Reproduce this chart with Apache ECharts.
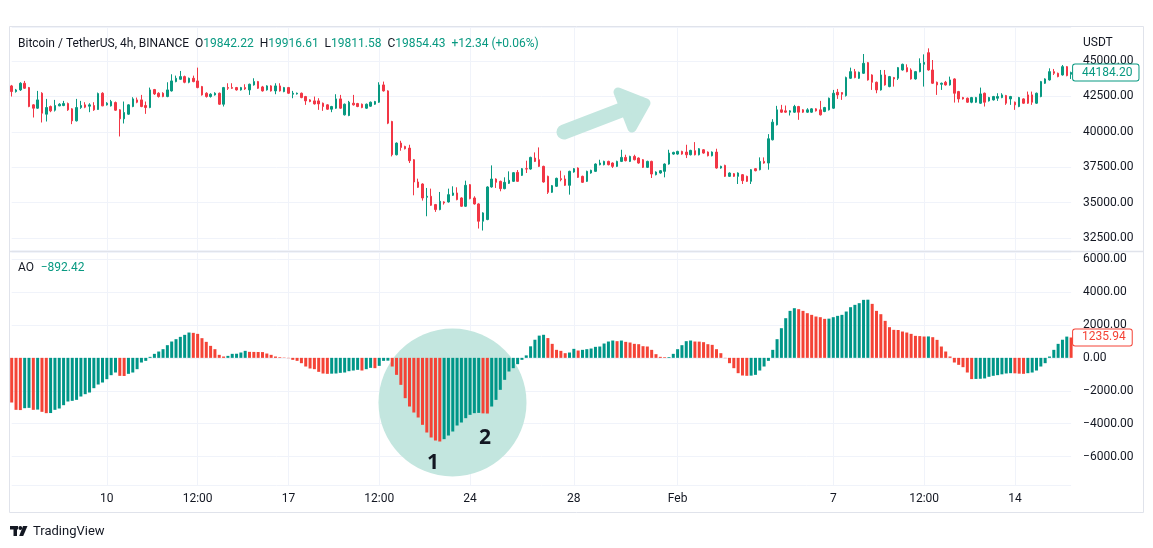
<!DOCTYPE html>
<html><head><meta charset="utf-8">
<script src="https://cdn.jsdelivr.net/npm/echarts@6/dist/echarts.min.js"></script>
<style>html,body{margin:0;padding:0;background:#fff;}#c{width:1153px;height:548px;}</style>
</head><body><div id="c"></div>
<script>
// ---- categories: 4h candles, BTC/USDT ----
const startTime = Date.UTC(2022, 0, 6, 8);
const categories = [];
for (let i = 0; i < 246; i++) {
  categories.push(new Date(startTime + i * 4 * 3600 * 1000).toISOString().slice(0, 16).replace('T', ' '));
}
const tickLabels = {
  '2022-01-10 00:00': '10', '2022-01-13 12:00': '12:00', '2022-01-17 00:00': '17',
  '2022-01-20 12:00': '12:00', '2022-01-24 00:00': '24', '2022-01-28 00:00': '28',
  '2022-02-01 00:00': 'Feb', '2022-02-07 00:00': '7', '2022-02-10 12:00': '12:00',
  '2022-02-14 00:00': '14'
};

const candleOpen = [
43240,42841,42958,43428,43122,41902,41667,42723,41245,41785,
41526,41832,41855,41996,41620,40775,41714,41902,41808,41855,
41573,42723,41902,41832,42066,41550,40916,41245,41785,42254,
42254,41855,41714,42982,42723,42723,42489,42888,43545,43709,
43897,43498,43780,43592,43193,42723,42489,42606,42723,41949,
43122,43122,43122,42958,43122,42958,43310,43545,43169,42958,
43240,42888,43240,42841,43122,42653,42676,42723,42489,42254,
42184,42184,42019,41902,41597,41667,42324,41198,41151,42019,
41996,41949,41667,41808,41949,42090,43310,42888,40728,38381,
39203,38968,38851,38029,36457,36316,35377,35448,34861,34509,
35049,35049,35518,35682,35330,34744,36269,35330,34908,33688,
33805,36105,36668,36504,35988,36363,36504,37137,36926,37396,
37372,38147,38029,37560,36856,35729,36152,36692,36668,36222,
37161,37443,36856,36504,37091,37208,37678,37678,37912,37795,
37560,37912,38194,37912,38264,38147,38029,37490,37912,36973,
37091,37208,37724,38428,38428,38616,38569,38381,38663,38381,
38733,38569,38311,38569,37443,37630,36856,37044,36856,36973,
36856,36504,37396,37325,37912,37795,39438,40494,41550,41479,
41386,41386,41785,41550,41386,41386,41620,41550,41433,41550,
41667,42794,42770,42559,43780,44249,43780,44132,44883,44014,
43498,42958,44014,43193,43827,43780,44366,44531,44366,43733,
44249,44765,45587,44366,43498,43357,43498,43310,43733,42841,
42418,42371,42090,42090,42019,42723,42184,42254,42371,42418,
42559,42324,42090,41785,42324,42606,42606,42019,42489,43428,
43662,44249,44132,44014,44601,44061];
const candleClose = [
42841,42958,43428,43075,41785,41667,42254,41315,41714,41479,
41855,41949,41996,41550,40775,41714,41855,41738,41902,41550,
42700,41832,42019,42137,41526,40916,41362,41902,42324,42090,
41785,41714,42958,42676,42489,42489,42958,43592,43780,43897,
43498,43780,43545,43122,42606,42489,42653,42723,41949,43122,
43075,43075,42958,43122,43028,43357,43545,43075,42888,43240,
42888,43240,42888,43122,42723,42723,42723,42418,42184,42137,
41972,41972,41785,41597,41785,42324,41667,41949,42090,41902,
41785,41714,41949,42090,42137,43310,42888,40611,38381,39203,
38898,38804,37959,36457,36082,35330,35448,34814,34509,35096,
34978,35565,35682,35213,34744,36222,35283,34908,33688,34274,
36105,36668,36434,35988,36434,36574,37114,36504,37396,37372,
38194,37912,37560,36457,35729,36199,36715,36621,36222,37208,
37396,36786,36434,37208,37278,37724,37795,37912,37678,37560,
37912,38194,37959,38264,38029,37795,37490,37912,37020,37161,
37255,37724,38499,38546,38616,38428,38381,38686,38381,38804,
38499,38311,38569,37443,37560,36856,37091,36856,37091,36551,
36504,37325,37255,37912,37795,39508,40681,41550,41386,41386,
41479,41785,41386,41386,41550,41620,41479,41198,41714,42371,
42723,42606,42653,43827,44249,43827,44202,44836,43662,43498,
42958,44014,43310,43897,43733,44531,44765,44249,43733,44249,
44836,44906,44366,43428,43310,43428,43310,43662,42723,42324,
42324,42090,42418,42418,42676,42090,42418,42489,42489,42606,
42019,42489,41902,42418,42019,42019,42090,42723,43545,43733,
44249,44132,43897,44601,43967,44184.20];
const candleLow = [
42489,42770,42888,43028,41738,41010,41620,40658,40728,41386,
41433,41808,41808,41479,40541,40728,41620,41667,41386,41479,
41550,41808,41855,41785,41479,39672,40588,41198,41738,42019,
41738,41268,41667,42606,42418,42442,42442,42841,43498,43662,
43428,43428,43498,43075,42559,42418,42418,42559,41902,41785,
42958,43028,42910,42910,42958,42606,43260,43028,42841,42910,
42841,42653,42841,42794,42676,42371,42630,42371,41902,42090,
41925,41550,41479,41550,41386,41620,41620,41151,41104,41855,
41738,41667,41620,41761,41902,42043,42841,40541,38264,38334,
38663,38757,37795,35518,36035,35143,34039,34767,34345,34462,
34861,35002,35471,35166,34697,34697,35236,34861,33171,33030,
33758,36058,36035,35800,35941,36316,36457,36457,36879,37091,
37325,37865,37513,36410,35612,35682,36105,36504,36175,35565,
37114,36739,36387,36457,37044,37161,37630,37630,37630,37443,
37513,37865,37912,37865,37982,37748,37443,37443,36739,36926,
37044,36786,37678,38381,38381,38381,38147,38334,38334,38334,
38452,38264,38264,37396,37396,36809,36809,36809,36316,36316,
36457,36316,37208,37278,37748,37325,39391,40447,41339,41339,
41151,41339,40846,41339,41339,41339,41433,41151,41386,41503,
41620,42324,42254,42489,43733,43780,43733,44085,43615,42958,
42723,42910,43263,43146,43193,43662,44319,44202,43686,43686,
44202,43193,44319,43381,42606,42958,43263,43263,42066,42066,
42277,42043,42019,42043,41972,41785,42137,42207,42184,42371,
41902,41902,41550,41738,41972,41972,41902,41972,42442,43381,
43615,44014,43850,43967,43920,43733];
const candleHigh = [
43310,43028,43498,43592,43169,41949,42888,42794,42324,41855,
42254,42019,42184,42066,41667,42324,42184,42090,42019,42090,
42770,42794,42090,42254,42137,41597,42137,41949,42442,42418,
42606,42137,43122,43028,42794,42794,43498,44061,43967,44296,
43967,43827,43967,44531,43240,42794,42723,42794,42770,43169,
43428,43428,43169,43169,43357,43400,43780,43592,43240,43290,
43290,43428,43428,43169,43169,42888,42770,42770,42536,42300,
42489,42371,42066,41949,41832,42653,42606,41996,42184,42606,
42043,41996,41996,42137,42184,43498,43545,42935,40775,39250,
39367,39016,39086,38076,36692,36363,36035,35988,34908,35753,
35096,35988,36152,36082,35377,36551,36316,35448,34955,34321,
36152,37630,36715,36551,36786,37208,37161,37302,37443,37959,
38241,38546,38898,37607,36903,36246,36762,37255,36926,37255,
37443,37490,36903,37255,37325,37771,38029,37959,37959,37842,
37959,38733,38381,38311,38381,38194,38076,37959,37959,37208,
37302,37771,38733,38593,38663,38663,39086,38733,39273,38851,
38780,38616,38616,38804,37607,37678,37137,37091,37137,37020,
36903,37372,37443,38194,38194,39837,40893,41832,41902,41855,
41526,41902,41832,41597,41667,41667,41667,42184,41761,42418,
42958,43028,42794,43897,44531,44437,44249,45493,44930,44061,
43545,44366,44366,43944,43874,44578,44812,44765,44484,44296,
45188,45469,45892,45070,43545,43475,43592,43897,43780,42888,
42465,42418,42465,42465,43122,42770,42465,42536,42723,42723,
42606,42536,42137,42465,42371,42841,42841,42770,43592,43780,
44484,44437,44179,44718,44648,44249];

// Awesome Oscillator histogram values
const aoValues = [
-2711,-3156,-3170,-3055,-3035,-3156,-3140,-3277,-3358,-3350,
-3156,-3075,-2873,-2650,-2610,-2549,-2347,-2205,-2104,-1841,
-1618,-1497,-1295,-1052,-890,-1092,-1100,-971,-890,-688,
-283,-182,61,243,384,526,769,991,1133,1274,
1396,1537,1517,1456,1194,971,728,526,182,81,
121,243,250,324,425,364,360,355,350,263,
182,81,40,20,-20,-121,-182,-324,-526,-647,
-688,-850,-951,-971,-960,-950,-910,-890,-809,-769,
-728,-769,-688,-607,-627,-486,-182,-170,-526,-1032,
-1639,-2448,-2954,-3318,-3621,-4066,-4532,-4835,-5017,-5078,
-4936,-4714,-4471,-4107,-3925,-3662,-3459,-3358,-3340,-3370,
-3380,-2954,-2549,-1942,-1335,-829,-627,-384,-121,150,
700,1100,1350,1400,1200,850,486,425,283,324,
546,445,486,526,566,668,688,870,991,1052,
1012,1050,971,931,850,829,708,688,486,223,
61,40,45,243,526,769,1012,1052,991,985,
951,829,789,526,283,-20,-324,-627,-931,-1072,
-1090,-1080,-1032,-769,-526,-182,486,1133,1800,2407,
2852,3014,2954,2852,2711,2610,2509,2468,2367,2380,
2468,2549,2610,2812,3075,3217,3318,3520,3530,3277,
2852,2650,2246,1861,1700,1690,1598,1537,1456,1335,
1320,1295,1300,1254,1092,688,384,81,-283,-425,
-566,-890,-1290,-1280,-1270,-1250,-1150,-1090,-1050,-1000,
-950,-930,-940,-960,-970,-930,-890,-769,-526,-324,
81,486,850,1100,1290,1235.94];

const headerValues = { O: '19842.22', H: '19916.61', L: '19811.58', C: '19854.43', chg: '+12.34 (+0.06%)' };
const aoHeaderValue = '\u2212892.42';

// ---- styling ----
const FONT = 'Roboto, "Noto Sans", sans-serif';
const UP = '#089981', DOWN = '#F23645', AO_UP = '#009688', AO_DOWN = '#F44336';
const GRIDC = '#f0f3fa', TXT = '#131722', BORDER = '#e0e3eb';
const fmt = v => (v < 0 ? '\u2212' : '') + Math.abs(v).toFixed(2);
const isTick = (i, v) => tickLabels[v] !== undefined;

const candleData = categories.map((_, i) => [candleOpen[i], candleClose[i], candleLow[i], candleHigh[i]]);
const lastClose = candleClose[candleClose.length - 1];
const lastAO = aoValues[aoValues.length - 1];

const chart = echarts.init(document.getElementById('c'), null, { renderer: 'canvas' });

const gridL = 11.7, gridR = 81.9;
const hiddenX = {
  axisLine: { show: false }, axisTick: { show: false },
  splitLine: { show: true, interval: isTick, lineStyle: { color: GRIDC, width: 1 } }
};

const priceBox = (color, text) => ({
  show: true, position: 'end', distance: 2, formatter: text,
  color: color, backgroundColor: '#fff', borderColor: color, borderWidth: 1, borderRadius: 2,
  padding: [3, 6, 1, 9], fontSize: 12, fontFamily: FONT
});

const yLabel = { showMinLabel: false, showMaxLabel: false, formatter: fmt, margin: 12, color: TXT, fontSize: 12, fontFamily: FONT, padding: [3, 0, 0, 0] };

const option = {
  animation: false,
  backgroundColor: '#fff',
  textStyle: { fontFamily: FONT },
  title: {
    left: 18, top: 38, padding: 0,
    text: '{n|Bitcoin / TetherUS, 4h, BINANCE}  {k|O}{v|' + headerValues.O + '}  {k|H}{v|' + headerValues.H +
      '}  {k|L}{v|' + headerValues.L + '}  {k|C}{v|' + headerValues.C + '}  {v|' + headerValues.chg + '}',
    textStyle: {
      fontSize: 12, fontWeight: 'normal',
      rich: {
        n: { color: TXT, fontSize: 12, fontFamily: FONT },
        k: { color: TXT, fontSize: 12, fontFamily: FONT },
        v: { color: UP, fontSize: 12, fontFamily: FONT }
      }
    }
  },
  grid: [
    { left: gridL, right: gridR, top: 27, height: 223.5 },
    { left: gridL, right: gridR, top: 252, height: 233 }
  ],
  xAxis: [
    Object.assign({ type: 'category', gridIndex: 0, data: categories, boundaryGap: false, axisLabel: { show: false } }, hiddenX),
    Object.assign({ type: 'category', gridIndex: 1, data: categories, boundaryGap: false,
      axisLabel: { show: true, interval: isTick, formatter: v => tickLabels[v] || '', color: TXT, fontSize: 12, margin: 8, fontFamily: FONT } }, hiddenX)
  ],
  yAxis: [
    { type: 'value', gridIndex: 0, position: 'right', min: 31620, max: 47400, minInterval: 2500, maxInterval: 2500,
      axisLine: { show: false }, axisTick: { show: false },
      splitLine: { lineStyle: { color: GRIDC } }, axisLabel: yLabel },
    { type: 'value', gridIndex: 1, position: 'right', min: -7718, max: 6425, minInterval: 2000, maxInterval: 2000,
      axisLine: { show: false }, axisTick: { show: false },
      splitLine: { lineStyle: { color: GRIDC } }, axisLabel: yLabel }
  ],
  series: [
    {
      type: 'candlestick', xAxisIndex: 0, yAxisIndex: 0, data: candleData, barWidth: 2, clip: false, z: 3,
      itemStyle: { color: UP, color0: DOWN, borderColor: UP, borderColor0: DOWN, borderWidth: 1 },
      markLine: {
        silent: true, symbol: ['none', 'none'], animation: false,
        lineStyle: { color: 'rgba(0,0,0,0)', width: 0 },
        label: priceBox(UP, lastClose.toFixed(2)),
        data: [{ yAxis: lastClose }]
      }
    },
    {
      type: 'bar', xAxisIndex: 1, yAxisIndex: 1, data: aoValues, barWidth: 3, z: 3,
      itemStyle: {
        color: p => (p.dataIndex > 0 && aoValues[p.dataIndex] > aoValues[p.dataIndex - 1]) ? AO_UP : AO_DOWN
      },
      markLine: {
        silent: true, symbol: ['none', 'none'], animation: false,
        lineStyle: { color: 'rgba(0,0,0,0)', width: 0 },
        label: priceBox(AO_DOWN, lastAO.toFixed(2)),
        data: [{ yAxis: lastAO }]
      }
    }
  ],
  graphic: [
    // widget frame and pane separator
    { type: 'rect', z: 0, silent: true, shape: { x: 9.5, y: 26.5, width: 1134, height: 486 }, style: { fill: 'none', stroke: BORDER, lineWidth: 1 } },
    { type: 'line', z: 0, silent: true, shape: { x1: 10, y1: 251.5, x2: 1143, y2: 251.5 }, style: { stroke: BORDER, lineWidth: 1.5 } },
    // pane texts
    { type: 'text', silent: true, left: 1083, top: 37, style: { text: 'USDT', fill: TXT, font: '12px ' + FONT } },
    { type: 'text', silent: true, left: 18, top: 262, style: { text: '{k|AO}  {v|' + aoHeaderValue + '}',
        rich: { k: { fill: TXT, font: '12px ' + FONT }, v: { fill: UP, font: '12px ' + FONT } } } },
    // drawn annotations
    { type: 'circle', z: 1, silent: true, shape: { cx: 452.5, cy: 402.5, r: 74 }, style: { fill: '#c3e6df' } },
    { type: 'polyline', z: 1, silent: true, shape: { points: [[564, 132], [637, 104]] },
      style: { stroke: '#c3e6df', lineWidth: 15, lineCap: 'round', fill: 'none' } },
    { type: 'polygon', z: 1, silent: true, shape: { points: [[618, 92], [646, 103], [632, 128]] },
      style: { fill: '#c3e6df', stroke: '#c3e6df', lineWidth: 9, lineJoin: 'round' } },
    { type: 'text', z: 10, silent: true, x: 433, y: 463, style: { text: '1', fill: '#131722', font: 'bold 21px "Open Sans", sans-serif', align: 'center', verticalAlign: 'middle' } },
    { type: 'text', z: 10, silent: true, x: 485, y: 438, style: { text: '2', fill: '#131722', font: 'bold 21px "Open Sans", sans-serif', align: 'center', verticalAlign: 'middle' } },
    // TradingView logo
    { type: 'rect', silent: true, shape: { x: 10, y: 526, width: 8, height: 3.5 }, style: { fill: '#131722' } },
    { type: 'rect', silent: true, shape: { x: 13.5, y: 526, width: 3.5, height: 10 }, style: { fill: '#131722' } },
    { type: 'circle', silent: true, shape: { cx: 20.3, cy: 528, r: 1.9 }, style: { fill: '#131722' } },
    { type: 'polygon', silent: true, shape: { points: [[23, 526], [27.5, 526], [23.2, 536], [19.2, 536]] }, style: { fill: '#131722' } },
    { type: 'text', silent: true, left: 33, top: 525, style: { text: 'TradingView', fill: '#131722', font: '13px ' + FONT } }
  ]
};
chart.setOption(option);
</script>
</body></html>
